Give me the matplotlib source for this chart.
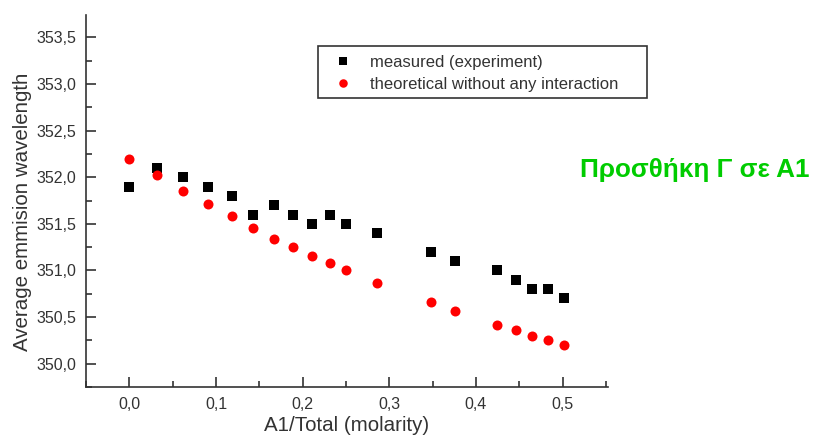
import matplotlib
matplotlib.use("Agg")
import matplotlib.pyplot as plt
from matplotlib.ticker import MultipleLocator, FuncFormatter
from matplotlib.patches import Rectangle

plt.rcParams['font.family'] = ['Liberation Sans', 'DejaVu Sans']

# A1 molar fraction of the mixture
ratio = [0.0, 0.032, 0.0625, 0.091, 0.118, 0.143, 0.167, 0.189, 0.211, 0.231,
         0.25, 0.286, 0.348, 0.376, 0.424, 0.446, 0.465, 0.4835, 0.501]
# average emission wavelength, measured
measured = [351.9, 352.1, 352.0, 351.9, 351.8, 351.6, 351.7, 351.6, 351.5, 351.6,
            351.5, 351.4, 351.2, 351.1, 351.0, 350.9, 350.8, 350.8, 350.7]
# average emission wavelength, non-interacting model
theoretical = [352.2, 352.02, 351.85, 351.71, 351.58, 351.46, 351.34, 351.25, 351.16, 351.08,
               351.01, 350.87, 350.66, 350.57, 350.42, 350.36, 350.30, 350.25, 350.20]

series_labels = ["measured (experiment)", "theoretical without any interaction"]
note = "Προσθήκη Γ σε Α1"

text_col = "#333333"

fig = plt.figure(figsize=(8.14, 4.44), dpi=100)
ax = fig.add_axes([86 / 814, 1 - 387 / 444, (607.7 - 86) / 814, (387 - 15) / 444])

h1, = ax.plot(ratio, measured, ls='none', marker='s', ms=6.8, color='black', mew=0)
h2, = ax.plot(ratio, theoretical, ls='none', marker='o', ms=7.2, color='#ff0000', mew=0)

ax.set_xlim(-0.05, 0.552)
ax.set_ylim(349.75, 353.74)

ax.xaxis.set_major_locator(MultipleLocator(0.1))
ax.xaxis.set_minor_locator(MultipleLocator(0.05))
ax.yaxis.set_major_locator(MultipleLocator(0.5))
ax.yaxis.set_minor_locator(MultipleLocator(0.25))

ax.xaxis.set_major_formatter(FuncFormatter(lambda v, p: f"{v:.1f}".replace('.', ',').replace('-0,0', '0,0')))
ax.yaxis.set_major_formatter(FuncFormatter(lambda v, p: f"{v:.1f}".replace('.', ',')))

for s in ('top', 'right'):
    ax.spines[s].set_visible(False)
for s in ('left', 'bottom'):
    ax.spines[s].set_color(text_col)
    ax.spines[s].set_linewidth(1.2)

ax.tick_params(which='major', direction='in', length=7, width=1.2, color=text_col,
               labelsize=11.5, labelcolor=text_col, pad=7)
ax.tick_params(which='minor', direction='in', length=4.5, width=1.2, color=text_col)

ax.set_xlabel("A1/Total (molarity)", fontsize=14.8, color=text_col, labelpad=3)
ax.set_ylabel("Average emmision wavelength", fontsize=14.8, color=text_col, labelpad=1)
ax.yaxis.set_label_coords(-0.104, 0.47)

leg = fig.legend([h1, h2], series_labels, loc='upper left',
                 bbox_to_anchor=(333 / 814, 1 - 55 / 444), frameon=False,
                 fontsize=12, handletextpad=1.0, labelspacing=0.4,
                 borderaxespad=0, borderpad=0, markerscale=0.85, handlelength=1.2)
for t in leg.get_texts():
    t.set_color(text_col)

fig.patches.append(Rectangle((318 / 814, 1 - 98 / 444), (647 - 318) / 814, (98 - 46) / 444,
                             transform=fig.transFigure, fill=False,
                             edgecolor=text_col, linewidth=1.2))

fig.text(810 / 814, 1 - 170 / 444, note, ha='right', va='center',
         fontsize=18.8, fontweight='bold', color='#00cc00')

fig.savefig("out.png", dpi=100)
